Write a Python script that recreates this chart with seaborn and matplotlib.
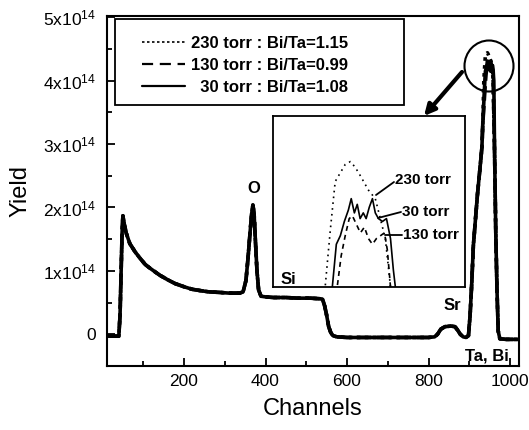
import matplotlib
matplotlib.use("Agg")
import matplotlib.pyplot as plt
from matplotlib.lines import Line2D
from matplotlib.patches import Ellipse, Rectangle
from matplotlib.ticker import FixedLocator, FixedFormatter, MultipleLocator
import numpy as np
import pandas as pd
import seaborn as sns

# ---------------- data (yield in units of 1e14) ----------------
# part of the spectrum that all three samples share (channels below the Ta/Bi edge)
common_ch = [10, 40, 43, 48, 50, 53, 58, 67, 80, 92, 105, 117, 130, 141, 160, 178,
             200, 220, 239, 260, 288, 310, 337, 345, 352, 357, 362, 366, 369, 372,
             375, 379, 383, 389, 400, 420, 450, 480, 510, 535, 540, 545, 550, 555,
             560, 565, 575, 600, 700, 800, 815, 822, 830, 840, 855, 865, 872, 878,
             885, 892, 898, 902, 906, 910, 915, 920, 926, 931, 933]
common_y = [-0.03, -0.03, 0.3, 1.6, 1.87, 1.75, 1.6, 1.43, 1.3, 1.2, 1.1, 1.04, 0.98,
            0.93, 0.86, 0.80, 0.75, 0.71, 0.69, 0.67, 0.66, 0.65, 0.65, 0.67, 0.85,
            1.2, 1.6, 1.9, 2.04, 1.9, 1.5, 1.0, 0.7, 0.6, 0.59, 0.58, 0.58, 0.57,
            0.57, 0.56, 0.55, 0.45, 0.3, 0.12, 0.03, -0.02, -0.04, -0.05, -0.05,
            -0.05, -0.04, 0.0, 0.08, 0.12, 0.13, 0.12, 0.06, 0.0, -0.04, -0.05,
            -0.02, 0.3, 0.8, 1.4, 1.8, 2.2, 2.6, 2.95, 3.3]
# Ta/Bi peak top
top230_ch = [935.7, 937.5, 939.2, 942.7, 944.5, 946.2, 948.0, 950.8, 953.2, 956.7, 958.5]
top230_y = [4.00, 4.20, 4.37, 4.43, 4.44, 4.42, 4.39, 4.34, 4.31, 4.17, 4.00]
top130_ch = [939.9, 941.3, 942.7, 944.1, 945.2, 946.6, 948.0, 949.4, 950.8, 952.2,
             953.6, 955.0, 956.4, 957.4, 958.5]
top130_y = [4.00, 4.11, 4.18, 4.24, 4.25, 4.22, 4.19, 4.21, 4.17, 4.15, 4.17, 4.18,
            4.19, 4.13, 4.00]
top30_ch = [938.2, 939.6, 941.0, 942.4, 943.8, 944.8, 945.9, 946.9, 947.9, 949.0,
            950.0, 951.1, 952.2, 953.2, 954.3, 955.7, 957.1, 958.5, 959.5, 960.2]
top30_y = [4.00, 4.15, 4.18, 4.23, 4.27, 4.31, 4.26, 4.29, 4.24, 4.26, 4.24, 4.28,
           4.31, 4.26, 4.24, 4.23, 4.24, 4.17, 4.06, 4.00]
# falling edge of the peak and flat tail
tail_ch = [962, 965, 968, 971, 975, 990, 1020]
tail_y = [2.9, 1.6, 0.7, 0.05, -0.07, -0.08, -0.08]

series = ["230 torr", "130 torr", "30 torr"]
legend_labels = ["230 torr : Bi/Ta=1.15", "130 torr : Bi/Ta=0.99", "  30 torr : Bi/Ta=1.08"]
tops = {"230 torr": (top230_ch, top230_y),
        "130 torr": (top130_ch, top130_y),
        "30 torr": (top30_ch, top30_y)}

ytick_vals = [0, 1, 2, 3, 4, 5]
ytick_labels = ["0"] + [r"$\mathregular{%dx10^{14}}$" % v for v in ytick_vals[1:]]
xtick_vals = [200, 400, 600, 800, 1000]

rows = []
for s in series:
    ch = common_ch + tops[s][0] + tail_ch
    yv = common_y + tops[s][1] + tail_y
    for c, v in zip(ch, yv):
        rows.append({"Channels": c, "Yield": v, "series": s})
df = pd.DataFrame(rows)

# ---------------- style ----------------
sns.set_style("ticks")
plt.rcParams["font.family"] = ["Liberation Sans", "DejaVu Sans"]
plt.rcParams["mathtext.fontset"] = "custom"
plt.rcParams["mathtext.rm"] = "Liberation Sans"
plt.rcParams["text.color"] = "black"
plt.rcParams["axes.labelcolor"] = "black"

W, H = 529, 430
fig = plt.figure(figsize=(W / 100, H / 100), dpi=100)
fig.patch.set_facecolor("white")


def fp(x, y):
    return (x / W, 1 - y / H)


ax = fig.add_axes([107 / W, 1 - 366 / H, 412 / W, 350 / H])

pal = {s: "black" for s in series}
dashes = {"230 torr": (1, 1.2), "130 torr": (4, 1.5), "30 torr": ""}
sns.lineplot(data=df, x="Channels", y="Yield", hue="series", style="series",
             palette=pal, dashes=dashes, estimator=None, sort=True,
             linewidth=2.6, legend=False, ax=ax)

ax.set_xlim(11, 1022)
ax.set_ylim(-0.5, 5.02)
ax.xaxis.set_major_locator(FixedLocator(xtick_vals))
ax.xaxis.set_minor_locator(MultipleLocator(100))
ax.yaxis.set_major_locator(FixedLocator(ytick_vals))
ax.yaxis.set_major_formatter(FixedFormatter(ytick_labels))
ax.yaxis.set_minor_locator(MultipleLocator(0.5))
ax.tick_params(which="both", direction="in", color="black", width=1.3,
               labelsize=12.5, labelcolor="black")
ax.tick_params(which="major", length=6)
ax.tick_params(which="minor", length=3.5)
ax.tick_params(axis="y", pad=8)
ax.tick_params(axis="x", pad=6)
for sp in ax.spines.values():
    sp.set_visible(True)
    sp.set_color("black")
    sp.set_linewidth(1.5)
ax.set_xlabel("Channels", fontsize=17, labelpad=6, color="black")
ax.set_ylabel("Yield", fontsize=17, labelpad=8, color="black")

# element labels
ax.text(372, 2.3, "O", fontsize=12, fontweight="bold", ha="center", va="center")
ax.text(858, 0.46, "Sr", fontsize=12, fontweight="bold", ha="center", va="center")
ax.text(944, -0.35, "Ta, Bi", fontsize=12, fontweight="bold", ha="center", va="center")

# legend (frame drawn separately)
hand = [Line2D([], [], color="black", lw=1.2, linestyle=(0, (1.5, 1.5))),
        Line2D([], [], color="black", lw=1.6, linestyle=(0, (5, 3))),
        Line2D([], [], color="black", lw=1.6, linestyle="-")]
leg = ax.legend(hand, legend_labels, loc="upper left",
                bbox_to_anchor=((135 - 107) / 412, (366 - 29) / 350),
                frameon=False, handlelength=2.6, handletextpad=0.35,
                labelspacing=0.42, borderaxespad=0, borderpad=0.4,
                prop={"weight": "bold", "size": 12})
fig.add_artist(Rectangle(fp(115, 105), 289 / W, 86 / H, transform=fig.transFigure,
                         fill=False, edgecolor="black", linewidth=1.3))

# circle around the peak and arrow to the inset
fig.add_artist(Ellipse(fp(489, 66), 49 / W, 51 / H, transform=fig.transFigure,
                       fill=False, edgecolor="black", linewidth=1.5))
ax.annotate("", xy=fp(424, 116), xytext=fp(462, 72),
            xycoords="figure fraction", textcoords="figure fraction",
            arrowprops=dict(arrowstyle="-|>", lw=3, color="black",
                            mutation_scale=16, shrinkA=0, shrinkB=0))

# inset: magnified peak top
axi = fig.add_axes([273 / W, 1 - 287 / H, 192 / W, 171 / H])
sns.lineplot(data=df, x="Channels", y="Yield", hue="series", style="series",
             palette=pal, dashes={"230 torr": (1, 2.5), "130 torr": (3, 2.5), "30 torr": ""},
             estimator=None, sort=True, linewidth=1.2, legend=False, ax=axi)
axi.set_xlim(917.5, 984.5)
axi.set_ylim(4.0, 4.60)
axi.set_xticks([])
axi.set_yticks([])
axi.set_xlabel("")
axi.set_ylabel("")
for sp in axi.spines.values():
    sp.set_visible(True)
    sp.set_color("black")
    sp.set_linewidth(1.3)

for txt, tx, ty, l0, l1 in [("230 torr", 395, 180, (376, 195), (394, 182)),
                            ("30 torr", 402, 212, (378, 218), (401, 212)),
                            ("130 torr", 403, 235, (385, 235), (402, 235))]:
    fig.text(*fp(tx, ty), txt, fontsize=11, fontweight="bold", ha="left", va="center")
    p0, p1 = fp(*l0), fp(*l1)
    fig.add_artist(Line2D([p0[0], p1[0]], [p0[1], p1[1]], transform=fig.transFigure,
                          color="black", lw=1.3))

# "Si" sits just inside the inset's lower-left corner, drawn above it
fig.text(*fp(288, 279), "Si", fontsize=12, fontweight="bold", ha="center", va="center")

fig.savefig("out.png", dpi=100)
